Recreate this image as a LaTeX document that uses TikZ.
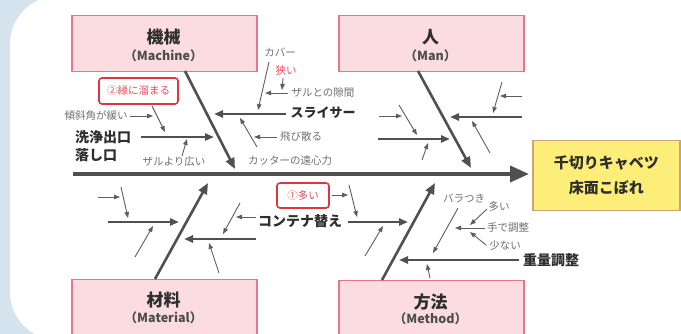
\documentclass[tikz,border=0pt]{standalone}
\usepackage{fontspec}
\setmainfont{Noto Sans CJK JP}
\usetikzlibrary{arrows.meta}
\definecolor{bgblue}{HTML}{D5E3EE}
\definecolor{pinkfill}{HTML}{FADCE1}
\definecolor{pinkline}{HTML}{E8758C}
\definecolor{redline}{HTML}{E0343F}
\definecolor{redtext}{HTML}{E5505C}
\definecolor{yellowfill}{HTML}{FCEE78}
\definecolor{yellowline}{HTML}{C8A478}
\definecolor{bonec}{HTML}{505050}
\definecolor{thinc}{HTML}{5E5E5E}
\definecolor{smalltext}{HTML}{707070}
\definecolor{boldtext}{HTML}{2E2E2E}
\begin{document}
\begin{tikzpicture}[x=1pt,y=-1pt,
  catbox/.style={draw=pinkline,fill=pinkfill,line width=1.5pt,minimum width=185pt,minimum height=56pt,inner sep=0pt,anchor=north west},
  cattitle/.style={font=\fontsize{17}{17}\selectfont\bfseries,text=boldtext,inner sep=0pt},
  catsub/.style={font=\fontsize{12.5}{12.5}\selectfont\bfseries,text=boldtext!85!white,inner sep=0pt},
  effbox/.style={draw=yellowline,fill=yellowfill,line width=1.5pt,minimum width=147pt,minimum height=70pt,inner sep=0pt,anchor=north west},
  efftext/.style={font=\fontsize{15}{25}\selectfont\bfseries,text=boldtext,align=center,inner sep=0pt},
  redbox/.style={draw=redline,line width=1.6pt,rounded corners=3pt,fill=white,text=redtext,font=\fontsize{10.5}{10.5}\selectfont,inner sep=0pt},
  lbl/.style={font=\fontsize{10.5}{10.5}\selectfont,text=smalltext,inner sep=0pt},
  blbl/.style={font=\fontsize{14}{18}\selectfont\bfseries,text=boldtext,inner sep=0pt},
  spine/.style={draw=bonec,line width=3.8pt,-{Triangle[length=19pt,width=16pt]}},
  bonearr/.style={draw=bonec,line width=2.6pt,-{Triangle[length=11pt,width=9pt]}},
  subarr/.style={draw=bonec,line width=2.2pt,-{Triangle[length=9pt,width=7pt]}},
  thinarr/.style={draw=thinc,line width=0.9pt,-{Triangle[length=6pt,width=4.5pt]}},
]
\useasboundingbox (0,0) rectangle (681,334);
\clip (0,0) rectangle (681,334);
% background
\fill[bgblue] (0,0) rectangle (681,334);
\fill[white,rounded corners=48pt] (10,-4) rectangle (730,340);

% category boxes
\node[catbox] (mach) at (71,15) {};
\node[catbox] (man) at (338,15) {};
\node[catbox,minimum height=70pt] (mat) at (71,279) {};
\node[catbox,minimum height=70pt] (meth) at (338,280) {};
\node[effbox] (eff) at (532,140) {};

\node[cattitle] (machT) at (163.5,37) {機械};
\node[catsub] (machS) at (163.5,56) {（Machine）};
\node[cattitle] (manT) at (430.5,37) {人};
\node[catsub] (manS) at (430.5,56) {（Man）};
\node[cattitle] (matT) at (163.5,300) {材料};
\node[catsub] (matS) at (163.5,318) {（Material）};
\node[cattitle] (methT) at (430.5,302) {方法};
\node[catsub] (methS) at (430.5,319) {（Method）};
\node[efftext] (effT) at (eff.center) {千切りキャベツ\\床面こぼれ};

% spine
\coordinate (s0) at (73,174);
\draw[spine,shorten >=3pt] (s0) -- (s0 -| eff.west);

% main bones
\coordinate (mb0) at (185,71);  \coordinate (mb1) at (235,169);
\coordinate (nb0) at (418,71);  \coordinate (nb1) at (471,168);
\coordinate (tb0) at (155,279); \coordinate (tb1) at (208,183);
\coordinate (hb0) at (382,280); \coordinate (hb1) at (435,183);
\draw[bonearr] (mb0) -- (mb1);
\draw[bonearr] (nb0) -- (nb1);
\draw[bonearr] (tb0) -- (tb1);
\draw[bonearr] (hb0) -- (hb1);

% ---- Machine ----
\node[blbl,align=left,anchor=west] (sen) at (75,146) {洗浄出口\\落し口};
\coordinate (sen0) at (141,137); \coordinate (sen1) at (214,137);
\draw[subarr] (sen0) -- (sen1);
\node[blbl,font=\fontsize{13}{13}\selectfont\bfseries] (sli) at (323,113) {スライサー};
\coordinate (sli1) at (214,114);
\draw[subarr] ([xshift=-4pt]sli.west |- sli1) -- (sli1);

\node[lbl] (kei) at (96,116) {傾斜角が緩い};
\coordinate (kei1) at (153,116);
\draw[thinarr] ([xshift=2pt]kei.east) -- (kei1);
\node[redbox,minimum width=79pt,minimum height=26pt] (en) at (138.5,91) {②縁に溜まる};
\coordinate (en0) at (152,106); \coordinate (en1) at (165,132);
\draw[thinarr] (en0) -- (en1);
\node[lbl] (zaru) at (174,162) {ザルより広い};
\coordinate (za0) at (182,156); \coordinate (za1) at (187,139);
\draw[thinarr] (za0) -- (za1);
\node[lbl] (kaba) at (280,52) {カバー};
\coordinate (ka0) at (269,62); \coordinate (ka1) at (258,110);
\draw[thinarr] (ka0) -- (ka1);
\node[lbl,text=redtext] (sema) at (286,71) {狭い};
\coordinate (se0) at (283,78); \coordinate (se1) at (282,90);
\draw[thinarr] (se0) -- (se1);
\node[lbl] (suki) at (323,93) {ザルとの隙間};
\coordinate (su1) at (265,93);
\draw[thinarr] ([xshift=-3pt]suki.west) -- (su1);
\node[lbl] (tobi) at (301,137) {飛び散る};
\coordinate (to1) at (254,137);
\draw[thinarr] ([xshift=-3pt]tobi.west) -- (to1);
\coordinate (en2) at (257,147); \coordinate (en3) at (240,118);
\draw[thinarr] (en2) -- (en3);
\node[lbl] (cut) at (290,161) {カッターの遠心力};

% ---- Man ----
\coordinate (mu0) at (522,117); \coordinate (mu1) at (450,117);
\draw[subarr] (mu0) -- (mu1);
\coordinate (ml0) at (378,139); \coordinate (ml1) at (450,139);
\draw[subarr] (ml0) -- (ml1);
\coordinate (n1a) at (502,82);  \coordinate (n1b) at (493,113);
\coordinate (n2a) at (522,96);  \coordinate (n2b) at (500,96);
\coordinate (n3a) at (490,153); \coordinate (n3b) at (472,121);
\coordinate (n4a) at (379,116); \coordinate (n4b) at (402,116);
\coordinate (n5a) at (399,105); \coordinate (n5b) at (417,135);
\coordinate (n6a) at (422,160); \coordinate (n6b) at (428,143);
\foreach \i in {1,...,6} \draw[thinarr] (n\i a) -- (n\i b);

% ---- Material ----
\coordinate (ma0) at (108,222); \coordinate (ma1) at (179,222);
\draw[subarr] (ma0) -- (ma1);
\coordinate (mr0) at (256,239); \coordinate (mr1) at (184,239);
\draw[subarr] (mr0) -- (mr1);
\coordinate (t1a) at (98,197);  \coordinate (t1b) at (120,197);
\coordinate (t2a) at (121,187); \coordinate (t2b) at (128,218);
\coordinate (t3a) at (135,257); \coordinate (t3b) at (153,226);
\coordinate (t4a) at (240,203); \coordinate (t4b) at (223,234);
\coordinate (t5a) at (219,273); \coordinate (t5b) at (209,243);
\foreach \i in {1,...,5} \draw[thinarr] (t\i a) -- (t\i b);
\node[blbl] (cont) at (300,221) {コンテナ替え};
\coordinate (co1) at (236,217);
\draw[thinarr] ([xshift=-2pt]cont.west |- co1) -- (co1);
\node[redbox,minimum width=52pt,minimum height=25pt] (ooi) at (303,195.5) {①多い};
\coordinate (oo1) at (348,195);
\draw[thinarr] ([xshift=2pt]ooi.east |- oo1) -- (oo1);

% ---- Method ----
\coordinate (ct0) at (348,222); \coordinate (ct1) at (408,222);
\draw[subarr] (ct0) -- (ct1);
\node[blbl] (jyu) at (551,260) {重量調整};
\coordinate (jy1) at (399,260);
\draw[subarr] ([xshift=-4pt]jyu.west) -- (jy1);
\coordinate (h1a) at (349,185); \coordinate (h1b) at (357,217);
\coordinate (h2a) at (365,256); \coordinate (h2b) at (383,226);
\coordinate (h3a) at (430,278); \coordinate (h3b) at (427,264);
\foreach \i in {1,2,3} \draw[thinarr] (h\i a) -- (h\i b);
\node[lbl] (bara) at (464,198) {バラつき};
\coordinate (ba0) at (458,208); \coordinate (ba1) at (433,253);
\draw[thinarr] (ba0) -- (ba1);
\node[lbl] (tede) at (508,228) {手で調整};
\coordinate (te1) at (455,228);
\draw[thinarr] ([xshift=-2pt]tede.west) -- (te1);
\node[lbl] (ooi2) at (499,207) {多い};
\coordinate (oa0) at (487,209); \coordinate (oa1) at (470,225);
\draw[thinarr] (oa0) -- (oa1);
\node[lbl] (sukuna) at (505,246) {少ない};
\coordinate (sk0) at (486,245); \coordinate (sk1) at (470,232);
\draw[thinarr] (sk0) -- (sk1);
\end{tikzpicture}
\end{document}
